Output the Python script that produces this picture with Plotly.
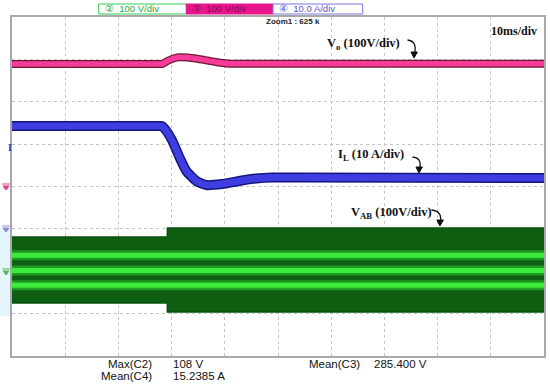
import plotly.graph_objects as go

# ---------------- data (time in ms, amplitude in screen divisions) ----------------
t_vo = [0, 14.0, 26.0, 27.6, 28.28, 29.21, 30.34, 31.46, 32.96, 34.83, 36.70, 38.58, 40.45, 42.0, 60.0, 100]
vo_div = [2.891, 2.891, 2.891, 2.891, 2.891, 2.962, 3.021, 3.049, 3.044, 3.014, 2.973, 2.933, 2.903, 2.897, 2.896, 2.896]

t_il = [0, 14.0, 26.0, 27.6, 28.09, 29.03, 30.15, 31.46, 32.77, 34.64, 36.52, 39.51, 42.70, 45.88, 48.88, 53.93, 100]
il_div = [1.428, 1.428, 1.428, 1.428, 1.428, 1.310, 1.074, 0.696, 0.366, 0.130, 0.035, 0.059, 0.130, 0.189, 0.212, 0.212, 0.201]

t_vab = [0, 29.2, 29.2, 100]
vab_top = [-1.19, -1.19, -0.98, -0.98]
vab_bot = [-2.75, -2.75, -2.96, -2.96]
vab_stripes = [-1.62, -1.98, -2.33]

header_labels = ["②  100 V/div", "③  100 V/div", "④  10.0 A/div"]
trace_labels = ["V<sub>o</sub> (100V/div)", "I<sub>L</sub> (10 A/div)", "V<sub>AB</sub> (100V/div)"]
meas_names = ["Max(C2)", "Mean(C4)", "Mean(C3)"]
meas_values = ["108 V", "15.2385 A", "285.400 V"]

# ---------------- geometry helpers (pixel -> paper) ----------------
W, H = 550, 384
L, R, T, B = 12, 546, 17, 356


def px(x):
    return (x - L) / (R - L)


def py(y):
    return (B - y) / (B - T)


fig = go.Figure()

# VAB band
fig.add_trace(go.Scatter(x=t_vab, y=vab_bot, mode="lines", line=dict(color="#0a520c", width=1.5),
                         showlegend=False, hoverinfo="skip"))
fig.add_trace(go.Scatter(x=t_vab, y=vab_top, mode="lines", line=dict(color="#0a520c", width=1.5),
                         fill="tonexty", fillcolor="#0d5e10", showlegend=False, hoverinfo="skip"))
for lvl in vab_stripes:
    fig.add_trace(go.Scatter(x=[t_vab[0], t_vab[-1]], y=[lvl, lvl], mode="lines",
                             line=dict(color="#1f9a22", width=10), showlegend=False, hoverinfo="skip"))
    fig.add_trace(go.Scatter(x=[t_vab[0], t_vab[-1]], y=[lvl, lvl], mode="lines",
                             line=dict(color="#3cec3c", width=5), showlegend=False, hoverinfo="skip"))

# IL band
fig.add_trace(go.Scatter(x=t_il, y=il_div, mode="lines", line=dict(color="#16167e", width=10, shape="spline", smoothing=0.5),
                         showlegend=False, hoverinfo="skip"))
fig.add_trace(go.Scatter(x=t_il, y=il_div, mode="lines", line=dict(color="#3d3de0", width=7, shape="spline", smoothing=0.5),
                         showlegend=False, hoverinfo="skip"))

# Vo band
fig.add_trace(go.Scatter(x=t_vo, y=vo_div, mode="lines", line=dict(color="#6e1634", width=8, shape="spline", smoothing=0.5),
                         showlegend=False, hoverinfo="skip"))
fig.add_trace(go.Scatter(x=t_vo, y=vo_div, mode="lines", line=dict(color="#f43c98", width=5.5, shape="spline", smoothing=0.5),
                         showlegend=False, hoverinfo="skip"))

shapes = []
annotations = []

# left cyan strip
shapes.append(dict(type="rect", xref="paper", yref="paper", x0=px(0), x1=px(11), y0=py(316), y1=py(228),
                   fillcolor="#e4f6fb", line=dict(width=0), layer="below"))

# header boxes
box_x = [(99, 187), (187, 274), (274, 364)]
box_line = ["#33cc55", "#e8168c", "#7777dd"]
box_fill = ["white", "#e8168c", "white"]
box_text = ["#22aa44", "#8a0a55", "#5555cc"]
for (x0, x1), lc, fc, tc, lab in zip(box_x, box_line, box_fill, box_text, header_labels):
    shapes.append(dict(type="rect", xref="paper", yref="paper", x0=px(x0), x1=px(x1), y0=py(14), y1=py(4),
                       fillcolor=fc, line=dict(color=lc, width=1)))
    annotations.append(dict(x=px(x0 + 4), y=py(9), xref="paper", yref="paper", text=lab, showarrow=False,
                            xanchor="left", yanchor="middle",
                            font=dict(family="Liberation Sans Narrow, Liberation Sans", size=9.5, color=tc)))

annotations.append(dict(x=px(265), y=py(21), xref="paper", yref="paper", text="<b>Zoom1 : 625 k</b>",
                        showarrow=False, xanchor="left", yanchor="middle",
                        font=dict(family="Liberation Sans Narrow, Liberation Sans", size=8, color="#222")))
annotations.append(dict(x=px(491), y=py(31), xref="paper", yref="paper", text="<b>10ms/div</b>",
                        showarrow=False, xanchor="left", yanchor="middle",
                        font=dict(family="Liberation Serif", size=12, color="#111")))

# trace labels with curved arrows
label_pos = [(326, 44), (337, 155), (350, 213)]
arrows = [((409, 40), (419, 41), (416, 57)),
          ((414, 157), (424, 158), (421, 172)),
          ((433, 210), (444, 211), (442, 225))]
for (lx, ly), lab, (p0, c, p1) in zip(label_pos, trace_labels, arrows):
    annotations.append(dict(x=px(lx), y=py(ly), xref="paper", yref="paper", text="<b>" + lab + "</b>",
                            showarrow=False, xanchor="left", yanchor="middle",
                            font=dict(family="Liberation Serif", size=12.5, color="#111")))
    path = "M %f %f Q %f %f %f %f" % (px(p0[0]), py(p0[1]), px(c[0]), py(c[1]), px(p1[0]), py(p1[1] - 3))
    shapes.append(dict(type="path", xref="paper", yref="paper", path=path, line=dict(color="#111", width=1.3)))
    tip = "M %f %f L %f %f L %f %f Z" % (px(p1[0] - 3.5), py(p1[1] - 5), px(p1[0] + 3), py(p1[1] - 5),
                                         px(p1[0] - 0.5), py(p1[1] + 1))
    shapes.append(dict(type="path", xref="paper", yref="paper", path=tip, fillcolor="#111",
                       line=dict(color="#111", width=1)))

# channel markers on the left
annotations.append(dict(x=px(6), y=py(147), xref="paper", yref="paper", text="<b>I</b>", showarrow=False,
                        font=dict(family="Liberation Serif", size=10, color="#3535c8")))
for ym, col in [(187, "#e0408f"), (229, "#8a8ae0"), (272, "#55bb55")]:
    shapes.append(dict(type="line", xref="paper", yref="paper", x0=px(2), x1=px(10), y0=py(ym - 3), y1=py(ym - 3),
                       line=dict(color=col, width=1)))
    shapes.append(dict(type="path", xref="paper", yref="paper",
                       path="M %f %f L %f %f L %f %f Z" % (px(3), py(ym - 1), px(9), py(ym - 1), px(6), py(ym + 3)),
                       fillcolor=col, line=dict(color=col, width=1)))

# measurement readout
meas_rows = [(155, 172, 364), (155, 172, 376), (363, 373, 364)]
for name, val, (xr, xv, yy) in zip(meas_names, meas_values, meas_rows):
    annotations.append(dict(x=px(xr), y=py(yy), xref="paper", yref="paper", text=name, showarrow=False,
                            xanchor="right", yanchor="middle",
                            font=dict(family="Liberation Sans", size=11.5, color="#111")))
    annotations.append(dict(x=px(xv), y=py(yy), xref="paper", yref="paper", text=val, showarrow=False,
                            xanchor="left", yanchor="middle",
                            font=dict(family="Liberation Sans", size=11.5, color="#111")))

axis_common = dict(showgrid=True, griddash="dot", gridcolor="#c4c4c4", gridwidth=1, showticklabels=False,
                   ticks="", zeroline=False, showline=True, mirror=True, linecolor="#a8a8a8", linewidth=1.5,
                   fixedrange=True)
fig.update_layout(
    width=W, height=H,
    margin=dict(l=L, r=W - R, t=T, b=H - B),
    paper_bgcolor="white", plot_bgcolor="white",
    xaxis=dict(range=[0, 100], dtick=10, **axis_common),
    yaxis=dict(range=[-4, 4], dtick=1, **axis_common),
    shapes=shapes, annotations=annotations, showlegend=False,
)

fig.write_html("out.html", config={"displayModeBar": False},
               post_script="document.body.style.margin='0';document.body.style.overflow='hidden';")
